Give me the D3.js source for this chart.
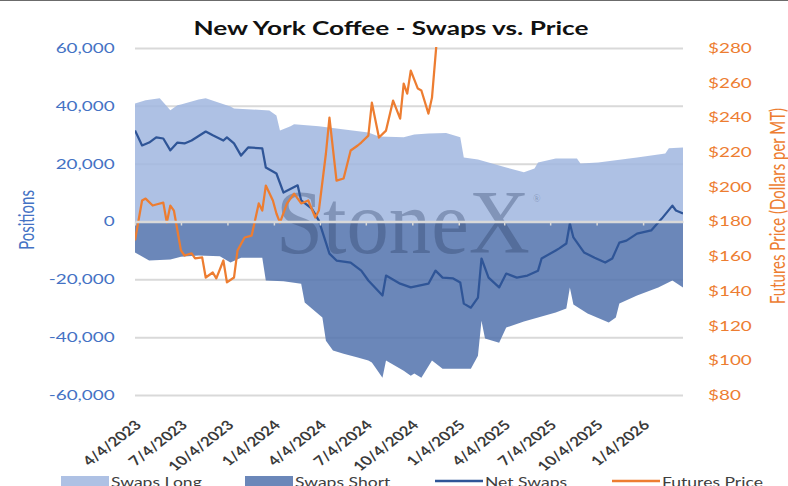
<!DOCTYPE html>
<html>
<head>
<meta charset="utf-8">
<script src="https://cdn.jsdelivr.net/npm/d3@7"></script>
<style>
  body { margin: 0; background: #fff; }
  svg { font-family: Lato, "Open Sans", sans-serif; }
</style>
</head>
<body>
<svg id="chart" width="788" height="486"></svg>
<script>
// New York Coffee - Swaps vs. Price (weekly)

const longDates = ['2023-04-04','2023-04-25','2023-05-23','2023-06-13','2023-06-27','2023-07-04','2023-08-08','2023-08-22',
  '2023-09-19','2023-10-10','2023-10-17','2023-12-26','2024-01-09','2024-01-16','2024-02-06','2024-02-13','2024-04-02',
  '2024-05-07','2024-07-09','2024-07-30','2024-09-17','2024-10-08','2024-11-05','2024-12-10','2025-01-07','2025-01-14',
  '2025-02-11','2025-03-11','2025-04-08','2025-05-13','2025-06-03','2025-06-10','2025-07-15','2025-08-26','2025-09-02',
  '2025-10-07','2025-12-23','2026-02-17','2026-02-24','2026-03-24'];
const longVals = [40800, 41900, 42600, 38500, 40200, 40500, 42200, 42600,
  41000, 39800, 39100, 38400, 36700, 31500, 32900, 33600, 32900,
  32200, 30800, 29400, 29100, 30100, 30400, 30600, 29100, 22100,
  21400, 20100, 18700, 17000, 18300, 20400, 21800, 21800, 20100,
  20400, 22100, 23500, 25300, 25600];

const shortDates = ['2023-04-04','2023-05-02','2023-06-13','2023-07-04','2023-08-08','2023-09-19','2023-10-10','2023-10-31',
  '2023-12-12','2023-12-19','2024-01-23','2024-02-27','2024-03-05','2024-04-09','2024-04-16','2024-04-30','2024-05-21',
  '2024-06-18','2024-07-09','2024-07-16','2024-08-06','2024-08-13','2024-09-17','2024-10-01','2024-10-08','2024-10-22',
  '2024-11-12','2024-12-03','2025-01-28','2025-02-11','2025-02-18','2025-02-25','2025-03-25','2025-04-08','2025-05-13',
  '2025-06-10','2025-07-15','2025-08-05','2025-08-12','2025-08-19','2025-09-16','2025-10-28','2025-11-11','2025-11-18',
  '2025-12-23','2026-02-03','2026-03-03','2026-03-24'];
const shortVals = [-10700, -13500, -13100, -12200, -11800, -12000, -14200, -12500,
  -12500, -20400, -20700, -21500, -28000, -33200, -41200, -44600, -45700,
  -47000, -48100, -48800, -54000, -48100, -51600, -53300, -52600, -54000,
  -48100, -50900, -50900, -46400, -34300, -40500, -41900, -36700, -34600,
  -33200, -31500, -30100, -22800, -28700, -31800, -34900, -33200, -28400,
  -25600, -22800, -20400, -22800];

const netDates = ['2023-04-04','2023-04-18','2023-05-02','2023-05-16','2023-05-30','2023-06-13','2023-06-27','2023-07-11',
  '2023-07-25','2023-08-22','2023-09-05','2023-09-26','2023-10-03','2023-10-17','2023-10-31','2023-11-14','2023-12-12',
  '2023-12-19','2024-01-09','2024-01-23','2024-02-20','2024-02-27','2024-03-19','2024-04-02','2024-04-23','2024-05-07',
  '2024-06-04','2024-06-25','2024-07-09','2024-08-06','2024-08-13','2024-09-10','2024-10-01','2024-11-05','2024-11-19',
  '2024-12-03','2024-12-24','2025-01-07','2025-01-14','2025-01-28','2025-02-11','2025-02-18','2025-03-04','2025-03-25',
  '2025-04-08','2025-04-29','2025-05-20','2025-06-10','2025-06-17','2025-07-15','2025-07-22','2025-08-05','2025-08-12',
  '2025-08-19','2025-09-09','2025-09-30','2025-10-21','2025-11-04','2025-11-18','2025-12-02','2025-12-23','2026-01-20',
  '2026-02-10','2026-03-03','2026-03-10','2026-03-24'];
const netVals = [31500, 26300, 27300, 29100, 28700, 24600, 27300, 27000,
  28000, 31100, 29800, 28000, 29100, 27000, 22800, 25600, 25300,
  18700, 16600, 10000, 12500, 7300, 4500, 300, -11100, -13500,
  -14200, -17000, -20400, -25600, -18700, -21500, -22800, -21500, -17000,
  -19400, -19700, -21100, -28400, -29800, -26300, -12800, -19400, -22800,
  -18000, -19400, -18700, -17000, -12800, -10000, -9300, -7600, -700,
  -5500, -10700, -12500, -14200, -12800, -7300, -6600, -4200, -3100,
  1000, 5500, 3800, 2800];

const priceDates = ['2023-04-04','2023-04-18','2023-04-25','2023-05-09','2023-05-16','2023-05-30','2023-06-06','2023-06-13',
  '2023-06-20','2023-07-04','2023-07-11','2023-07-25','2023-08-01','2023-08-15','2023-08-22','2023-09-05','2023-09-12',
  '2023-09-26','2023-10-03','2023-10-17','2023-10-24','2023-11-07','2023-11-21','2023-12-05','2023-12-12','2023-12-19',
  '2024-01-02','2024-01-09','2024-01-16','2024-01-30','2024-02-13','2024-02-27','2024-03-12','2024-03-26','2024-04-02',
  '2024-04-16','2024-04-23','2024-05-07','2024-05-21','2024-06-04','2024-06-18','2024-06-25','2024-07-09','2024-07-16',
  '2024-07-30','2024-08-13','2024-08-27','2024-09-10','2024-09-17','2024-09-24','2024-10-01','2024-10-15','2024-10-22',
  '2024-11-05','2024-11-12','2024-11-26'];
const priceVals = [169.1, 192.1, 193.2, 189.2, 189.8, 190.9, 179.4, 189.2,
  186.3, 163.3, 160.4, 161.6, 158.7, 159.3, 147.7, 150.6, 147.2,
  157.5, 144.9, 147.7, 163.3, 170.8, 171.9, 190.4, 186.3, 200.7,
  192.1, 184.6, 179.4, 190.4, 196.1, 190.4, 192.1, 182.3, 186.3,
  219.2, 239.9, 203.6, 204.8, 220.9, 223.8, 225.5, 229.5, 248.5,
  228.4, 232.4, 249.7, 239.3, 259.5, 253.7, 267.0, 256.6, 255.5,
  242.2, 251.4, 300.0];

const xTickLabels = ['4/4/2023','7/4/2023','10/4/2023','1/4/2024','4/4/2024','7/4/2024','10/4/2024',
  '1/4/2025','4/4/2025','7/4/2025','10/4/2025','1/4/2026'];
const leftTicks = [-60000, -40000, -20000, 0, 20000, 40000, 60000];
const rightTicks = [80, 100, 120, 140, 160, 180, 200, 220, 240, 260, 280];
const seriesNames = ['Swaps Long', 'Swaps Short', 'Net Swaps', 'Futures Price'];

// layout
const plot = { left: 135, right: 683, top: 48, bottom: 395 };
const sx = 1.35; // text in the reference is drawn wide
const colLong = '#a0b6df', colShort = '#5172ad', colNet = '#2f5597', colPrice = '#ed7d31';
const serif = '"Liberation Serif", "DejaVu Serif", serif';

const parse = d3.timeParse('%Y-%m-%d');
const parseTick = d3.timeParse('%m/%d/%Y');
const zip = (ds, vs) => ds.map((d, i) => ({ date: parse(d), v: vs[i] }));
const longData = zip(longDates, longVals);
const shortData = zip(shortDates, shortVals);
const netData = zip(netDates, netVals);
const priceData = zip(priceDates, priceVals);
const tickDates = xTickLabels.map(parseTick);

const svg = d3.select('#chart');

const x = d3.scaleTime().domain([parse('2023-04-04'), parse('2026-03-24')]).range([plot.left, plot.right]);
const yL = d3.scaleLinear().domain([-60000, 60000]).range([plot.bottom, plot.top]);
const yR = d3.scaleLinear().domain([80, 280]).range([plot.bottom, plot.top]);

// top frame line
svg.append('line').attr('x1', 0).attr('x2', 788).attr('y1', 0.5).attr('y2', 0.5)
  .attr('stroke', '#6b6b6b').attr('stroke-width', 1);

svg.append('clipPath').attr('id', 'plotClip').append('rect')
  .attr('x', plot.left).attr('y', plot.top - 1)
  .attr('width', plot.right - plot.left).attr('height', plot.bottom - plot.top + 2);

// gridlines
const grid = svg.append('g').attr('transform', `translate(${plot.left},0)`)
  .call(d3.axisLeft(yL).tickValues(leftTicks.filter(d => d !== 0)).tickSize(-(plot.right - plot.left)).tickFormat(''));
grid.select('.domain').remove();
grid.selectAll('line').attr('stroke', '#d9d9d9').attr('stroke-width', 2);

// areas
const plotG = svg.append('g').attr('clip-path', 'url(#plotClip)');
const area = d3.area().x(d => x(d.date)).y0(yL(0)).y1(d => yL(d.v));
plotG.append('path').datum(longData).attr('d', area).attr('fill', colLong).attr('fill-opacity', 0.85);
plotG.append('path').datum(shortData).attr('d', area).attr('fill', colShort).attr('fill-opacity', 0.85);

// watermark
plotG.append('text').attr('transform', 'translate(276,253) scale(0.94,1)')
  .style('font-family', serif).attr('font-size', 90)
  .attr('fill', '#28395e').attr('fill-opacity', 0.33).text('StoneX');
svg.append('text').attr('x', 533).attr('y', 202).style('font-family', serif)
  .attr('font-size', 10).attr('fill', '#28395e').attr('fill-opacity', 0.33).text('®');

// horizontal axis at zero with tick marks
const zeroAxis = svg.append('g').attr('transform', `translate(0,${yL(0)})`)
  .call(d3.axisBottom(x).tickValues(tickDates).tickSize(4).tickSizeOuter(0).tickFormat(''));
zeroAxis.select('.domain').attr('stroke', '#d9d9d9').attr('stroke-width', 2.5);
zeroAxis.selectAll('.tick line').attr('stroke', '#d9d9d9').attr('stroke-width', 1.5);

// lines
const netLine = d3.line().x(d => x(d.date)).y(d => yL(d.v));
const priceLine = d3.line().x(d => x(d.date)).y(d => yR(d.v));
plotG.append('path').datum(netData).attr('d', netLine).attr('fill', 'none')
  .attr('stroke', colNet).attr('stroke-width', 2.25).attr('stroke-linejoin', 'round');
plotG.append('path').datum(priceData).attr('d', priceLine).attr('fill', 'none')
  .attr('stroke', colPrice).attr('stroke-width', 2.25).attr('stroke-linejoin', 'round');

// left axis labels
const fmt = d3.format(',');
const left = svg.append('g').attr('transform', `translate(${plot.left},0)`)
  .call(d3.axisLeft(yL).tickValues(leftTicks).tickSize(0).tickPadding(15)
    .tickFormat(d => fmt(d).replace('\u2212', '-')));
left.select('.domain').remove();
left.attr('font-family', null);
left.selectAll('text').attr('font-size', 14).attr('fill', '#4472c4')
  .attr('transform', `scale(${sx},1)`);

// right axis labels
const right = svg.append('g').attr('transform', `translate(${plot.right},0)`)
  .call(d3.axisRight(yR).tickValues(rightTicks).tickSize(0).tickPadding(18.5).tickFormat(d => '$' + d));
right.select('.domain').remove();
right.attr('font-family', null);
right.selectAll('text').attr('font-size', 14).attr('fill', colPrice)
  .attr('transform', `scale(${sx},1)`);

// date labels below the plot
const bottom = svg.append('g').attr('transform', `translate(0,${plot.bottom})`)
  .call(d3.axisBottom(x).tickValues(tickDates).tickSize(0).tickFormat(d3.timeFormat('%-m/%-d/%Y')));
bottom.select('.domain').remove();
bottom.attr('font-family', null);
bottom.selectAll('text').attr('font-size', 13).attr('fill', '#3a3a3a').attr('font-weight', 'bold')
  .attr('y', 0).attr('dy', 0).attr('text-anchor', 'end')
  .attr('transform', `translate(7,31) scale(1.3,1) rotate(-45)`);

// title
svg.append('text').attr('transform', `translate(391,35) scale(1.38,1)`)
  .attr('text-anchor', 'middle').attr('font-size', 19).attr('font-weight', 'bold')
  .attr('fill', '#111').text('New York Coffee - Swaps vs. Price');

// axis titles
svg.append('text').attr('transform', `translate(27,220) scale(${sx},1) rotate(-90)`)
  .attr('text-anchor', 'middle').attr('dy', '0.35em').attr('font-size', 15)
  .attr('fill', '#4472c4').text('Positions');
svg.append('text').attr('transform', `translate(778,206) scale(${sx},1) rotate(-90)`)
  .attr('text-anchor', 'middle').attr('dy', '0.35em').attr('font-size', 15)
  .attr('fill', colPrice).text('Futures Price (Dollars per MT)');

// legend
const legendX = [61, 245, 435, 612];
const legend = svg.append('g');
seriesNames.forEach((name, i) => {
  const g = legend.append('g').attr('transform', `translate(${legendX[i]},0)`);
  if (i < 2) {
    g.append('rect').attr('x', 0).attr('y', 476).attr('width', 48).attr('height', 12)
      .attr('fill', i === 0 ? colLong : colShort).attr('fill-opacity', 0.85);
  } else {
    g.append('line').attr('x1', 0).attr('x2', 48).attr('y1', 481).attr('y2', 481)
      .attr('stroke', i === 2 ? colNet : colPrice).attr('stroke-width', 2.5);
  }
  g.append('text').attr('transform', `translate(50,487) scale(${sx},1)`)
    .attr('font-size', 13).attr('fill', '#404040').text(name);
});
</script>
</body>
</html>
